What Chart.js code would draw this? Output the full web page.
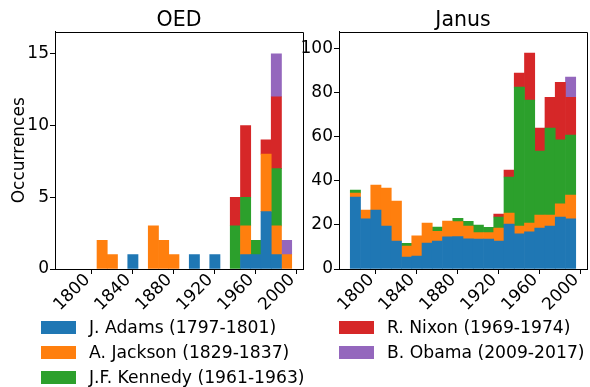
<!DOCTYPE html>
<html>
<head>
<meta charset="utf-8">
<script src="https://cdn.jsdelivr.net/npm/chart.js@4"></script>
<style>
  body { margin: 0; background: #fff; }
  #wrap { position: relative; width: 590px; height: 387px; overflow: hidden; }
  canvas { position: absolute; top: 0; }
  .legend { position: absolute; font-family: 'DejaVu Sans', sans-serif; font-size: 17.2px; color: #000; }
  .item { position: absolute; height: 25px; white-space: nowrap; }
  .item span.box { position: absolute; left: 0; top: 6px; width: 35px; height: 13px; }
  .item span.txt { position: absolute; left: 48px; top: 2px; line-height: 20px; }
</style>
</head>
<body>
<div id="wrap">
  <canvas id="oed" width="310" height="320" style="left:0"></canvas>
  <canvas id="janus" width="300" height="320" style="left:290px"></canvas>
  <div class="legend" id="legend"></div>
</div>
<script>
// bins are decades, centred on these years
const binCenters = [1800, 1810, 1820, 1830, 1840, 1850, 1860, 1870, 1880, 1890, 1900,
                    1910, 1920, 1930, 1940, 1950, 1960, 1970, 1980, 1990, 2000, 2010];
const xTicks = [1800, 1840, 1880, 1920, 1960, 2000];
const oedYTicks = [0, 5, 10, 15];
const janusYTicks = [0, 20, 40, 60, 80, 100];

const seriesNames = ['J. Adams (1797-1801)', 'A. Jackson (1829-1837)', 'J.F. Kennedy (1961-1963)',
                     'R. Nixon (1969-1974)', 'B. Obama (2009-2017)'];
const seriesColors = ['#1f77b4', '#ff7f0e', '#2ca02c', '#d62728', '#9467bd'];

// OED counts
const oedAdams   = [0, 0, 0, 0, 0, 0, 1, 0, 0, 0, 0, 0, 1, 0, 1, 0, 0, 1, 1, 4, 1, 0];
const oedJackson = [0, 0, 0, 2, 1, 0, 0, 0, 3, 2, 1, 0, 0, 0, 0, 0, 0, 2, 0, 4, 2, 1];
const oedKennedy = [0, 0, 0, 0, 0, 0, 0, 0, 0, 0, 0, 0, 0, 0, 0, 0, 3, 2, 1, 0, 4, 0];
const oedNixon   = [0, 0, 0, 0, 0, 0, 0, 0, 0, 0, 0, 0, 0, 0, 0, 0, 2, 5, 0, 1, 5, 0];
const oedObama   = [0, 0, 0, 0, 0, 0, 0, 0, 0, 0, 0, 0, 0, 0, 0, 0, 0, 0, 0, 0, 3, 1];

// Janus counts
const janusAdams   = [32.6, 22.7, 26.7, 19.5, 12.7, 5.4, 5.9, 11.8, 12.7, 14.6, 14.7,
                      13.7, 13.6, 13.6, 12.7, 20.4, 15.9, 16.8, 18.6, 19.5, 23.6, 22.7];
const janusJackson = [1.8, 4.0, 11.4, 17.2, 18.1, 5.0, 9.1, 9.0, 4.4, 7.1, 6.8,
                      5.8, 2.9, 2.9, 5.9, 5.0, 3.6, 4.0, 5.9, 5.0, 5.9, 10.8];
const janusKennedy = [1.4, 0, 0, 0, 0, 1.2, 0, 0, 1.9, 0, 1.5,
                      2.1, 3.4, 2.4, 5.0, 16.3, 63.0, 55.8, 29.0, 39.4, 29.1, 27.2];
const janusNixon   = [0, 0, 0, 0, 0, 0, 0, 0, 0, 0, 0,
                      0, 0, 0, 1.3, 3.2, 6.3, 21.3, 10.4, 14.0, 26.1, 17.2];
const janusObama   = [0, 0, 0, 0, 0, 0, 0, 0, 0, 0, 0,
                      0, 0, 0, 0, 0, 0, 0, 0, 0, 0, 9.1];

const FONT = 'DejaVu Sans';
const TICK_SIZE = 17;

// top and right spines
const framePlugin = {
    id: 'frame',
    afterDraw(chart) {
        const { ctx, chartArea: a } = chart;
        ctx.save();
        ctx.strokeStyle = '#000';
        ctx.lineWidth = 1;
        ctx.beginPath();
        ctx.moveTo(Math.round(a.left) + 0.5, Math.round(a.top) + 0.5);
        ctx.lineTo(Math.round(a.right) + 0.5, Math.round(a.top) + 0.5);
        ctx.lineTo(Math.round(a.right) + 0.5, Math.round(a.bottom) + 0.5);
        ctx.stroke();
        ctx.restore();
    }
};

function makeDatasets(seriesList) {
    return seriesList.map((vals, i) => ({
        label: seriesNames[i],
        // empty bins are left out so no hairline is drawn at zero
        data: vals.map((v, j) => ({ x: binCenters[j], y: v === 0 ? null : v })),
        backgroundColor: seriesColors[i],
        borderWidth: 0,
        barPercentage: 1,
        categoryPercentage: 1
    }));
}

function makeChart(id, title, seriesList, yTicks, yMax, yWidth, rightPad, yTitle) {
    const ctx = document.getElementById(id).getContext('2d');
    return new Chart(ctx, {
        type: 'bar',
        data: { datasets: makeDatasets(seriesList) },
        plugins: [framePlugin],
        options: {
            responsive: false,
            animation: false,
            layout: { padding: { left: 0, right: rightPad, top: 0, bottom: 1 } },
            plugins: {
                legend: { display: false },
                tooltip: { enabled: false },
                title: {
                    display: true,
                    fullSize: false, // centre over the plot area, like matplotlib
                    text: title,
                    color: '#000',
                    font: { family: FONT, size: 20.5, weight: 'normal', lineHeight: 1 },
                    padding: { top: 10, bottom: 1 }
                }
            },
            scales: {
                x: {
                    type: 'linear',
                    stacked: true,
                    offset: false,
                    min: 1784,
                    max: 2026,
                    afterBuildTicks: s => { s.ticks = xTicks.map(v => ({ value: v })); },
                    afterFit: s => { s.height = 50; },
                    grid: { drawOnChartArea: false, tickLength: 5, color: '#000' },
                    border: { display: true, color: '#000', width: 1 },
                    ticks: {
                        color: '#000',
                        font: { family: FONT, size: TICK_SIZE },
                        minRotation: 45,
                        maxRotation: 45,
                        padding: -4,
                        labelOffset: 16,
                        callback: v => String(v)
                    }
                },
                y: {
                    stacked: true,
                    min: 0,
                    max: yMax,
                    afterBuildTicks: s => { s.ticks = yTicks.map(v => ({ value: v })); },
                    afterFit: s => { s.width = yWidth; },
                    grid: { drawOnChartArea: false, tickLength: 5, color: '#000' },
                    border: { display: true, color: '#000', width: 1 },
                    ticks: {
                        color: '#000',
                        font: { family: FONT, size: TICK_SIZE },
                        padding: 1,
                        callback: v => String(v)
                    },
                    title: {
                        display: !!yTitle,
                        text: yTitle || '',
                        color: '#000',
                        font: { family: FONT, size: TICK_SIZE, lineHeight: 1.2 },
                        padding: { top: 9, bottom: 0 }
                    }
                }
            }
        }
    });
}

makeChart('oed', 'OED', [oedAdams, oedJackson, oedKennedy, oedNixon, oedObama],
          oedYTicks, 16.55, 55, 7, 'Occurrences');
makeChart('janus', 'Janus', [janusAdams, janusJackson, janusKennedy, janusNixon, janusObama],
          janusYTicks, 107.7, 49, 3, null);

// two-column legend under the panels
const legendPos = [
    { left: 41, top: 315 }, { left: 41, top: 340 }, { left: 41, top: 365 },
    { left: 339, top: 315 }, { left: 339, top: 340 }
];
const legendEl = document.getElementById('legend');
seriesNames.forEach((name, i) => {
    const item = document.createElement('div');
    item.className = 'item';
    item.style.left = legendPos[i].left + 'px';
    item.style.top = legendPos[i].top + 'px';
    item.innerHTML = '<span class="box" style="background:' + seriesColors[i] + '"></span>' +
                     '<span class="txt"></span>';
    item.querySelector('.txt').textContent = name;
    legendEl.appendChild(item);
});
</script>
</body>
</html>
